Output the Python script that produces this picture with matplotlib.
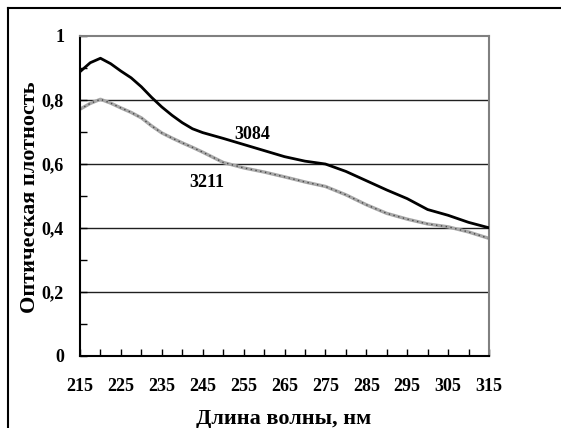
import matplotlib
matplotlib.use("Agg")
import matplotlib.pyplot as plt
from matplotlib.lines import Line2D
from matplotlib.ticker import MultipleLocator, FixedLocator

wavelengths = [215, 217.5, 220, 222.5, 225, 227.5, 230, 232.5, 235, 237.5, 240, 242.5,
               245, 250, 255, 260, 265, 270, 275, 280, 285, 290, 295, 300, 305, 310, 315]
s3084 = [0.887, 0.915, 0.929, 0.912, 0.889, 0.868, 0.840, 0.807, 0.777, 0.751, 0.728, 0.709,
         0.697, 0.679, 0.660, 0.641, 0.622, 0.608, 0.599, 0.576, 0.547, 0.518, 0.491,
         0.457, 0.439, 0.417, 0.400]
s3211 = [0.770, 0.788, 0.801, 0.789, 0.774, 0.760, 0.743, 0.718, 0.696, 0.680, 0.665, 0.651,
         0.636, 0.604, 0.587, 0.574, 0.559, 0.543, 0.529, 0.503, 0.472, 0.445, 0.427,
         0.412, 0.403, 0.387, 0.367]
xticks = [215, 225, 235, 245, 255, 265, 275, 285, 295, 305, 315]
yticks = [0, 0.2, 0.4, 0.6, 0.8, 1.0]
ylabels = ["0", "0,2", "0,4", "0,6", "0,8", "1"]
series_labels = ["3084", "3211"]

W, H = 561, 428
fig = plt.figure(figsize=(W / 100, H / 100), dpi=100)
L, R, T, B = 80, 489, 35.5, 356
ax = fig.add_axes([L / W, 1 - B / H, (R - L) / W, (B - T) / H])

font = ["Liberation Serif", "DejaVu Serif"]

for y in yticks[1:-1]:
    ax.axhline(y, color="#202020", lw=1.0, zorder=1)

ax.plot(wavelengths, s3084, color="black", lw=2.0, zorder=3)
ax.plot(wavelengths, s3211, color="#a8a8a8", lw=2.4, zorder=2)
ax.plot(wavelengths, s3211, color="#4a4a4a", lw=1.0, ls=(0, (1, 2.5)), zorder=2.5)

ax.text(257.1, 0.692, series_labels[0], fontsize=13, fontweight="bold",
        family=font, ha="center", va="center")
ax.text(246.1, 0.542, series_labels[1], fontsize=13, fontweight="bold",
        family=font, ha="center", va="center")

ax.set_xlim(215, 315)
ax.set_ylim(0, 1)
ax.xaxis.set_major_locator(FixedLocator(xticks))
ax.xaxis.set_minor_locator(MultipleLocator(5))
ax.yaxis.set_major_locator(FixedLocator(yticks))
ax.yaxis.set_minor_locator(MultipleLocator(0.1))
ax.set_xticklabels([str(v) for v in xticks])
ax.set_yticklabels(ylabels)
ax.tick_params(which="both", direction="in", length=5, width=1, color="black")
ax.tick_params(axis="x", which="both", pad=16)
ax.tick_params(axis="y", which="both", pad=11.5)
for lab in ax.get_xticklabels() + ax.get_yticklabels():
    lab.set_fontfamily(font)
    lab.set_fontweight("bold")
    lab.set_fontsize(13)

for side in ["left", "bottom"]:
    ax.spines[side].set_color("black")
    ax.spines[side].set_linewidth(1.5)
for side in ["top", "right"]:
    ax.spines[side].set_color("#808080")
    ax.spines[side].set_linewidth(1.5)

ax.set_xlabel("Длина волны, нм", fontsize=16, fontweight="bold", family=font)
ax.set_ylabel("Оптическая плотность", fontsize=16, fontweight="bold", family=font)
ax.xaxis.set_label_coords(0.497, (B - 409) / (B - T))
ax.yaxis.set_label_coords((40 - L) / (R - L), 0.495)

# outer frame of the document figure
fig.add_artist(Line2D([8 / W, 8 / W], [0, 1 - 8 / H], color="black", lw=1.5,
                      transform=fig.transFigure))
fig.add_artist(Line2D([8 / W, 1], [1 - 8 / H, 1 - 8 / H], color="black", lw=1.5,
                      transform=fig.transFigure))

fig.savefig("out.png", dpi=100)
